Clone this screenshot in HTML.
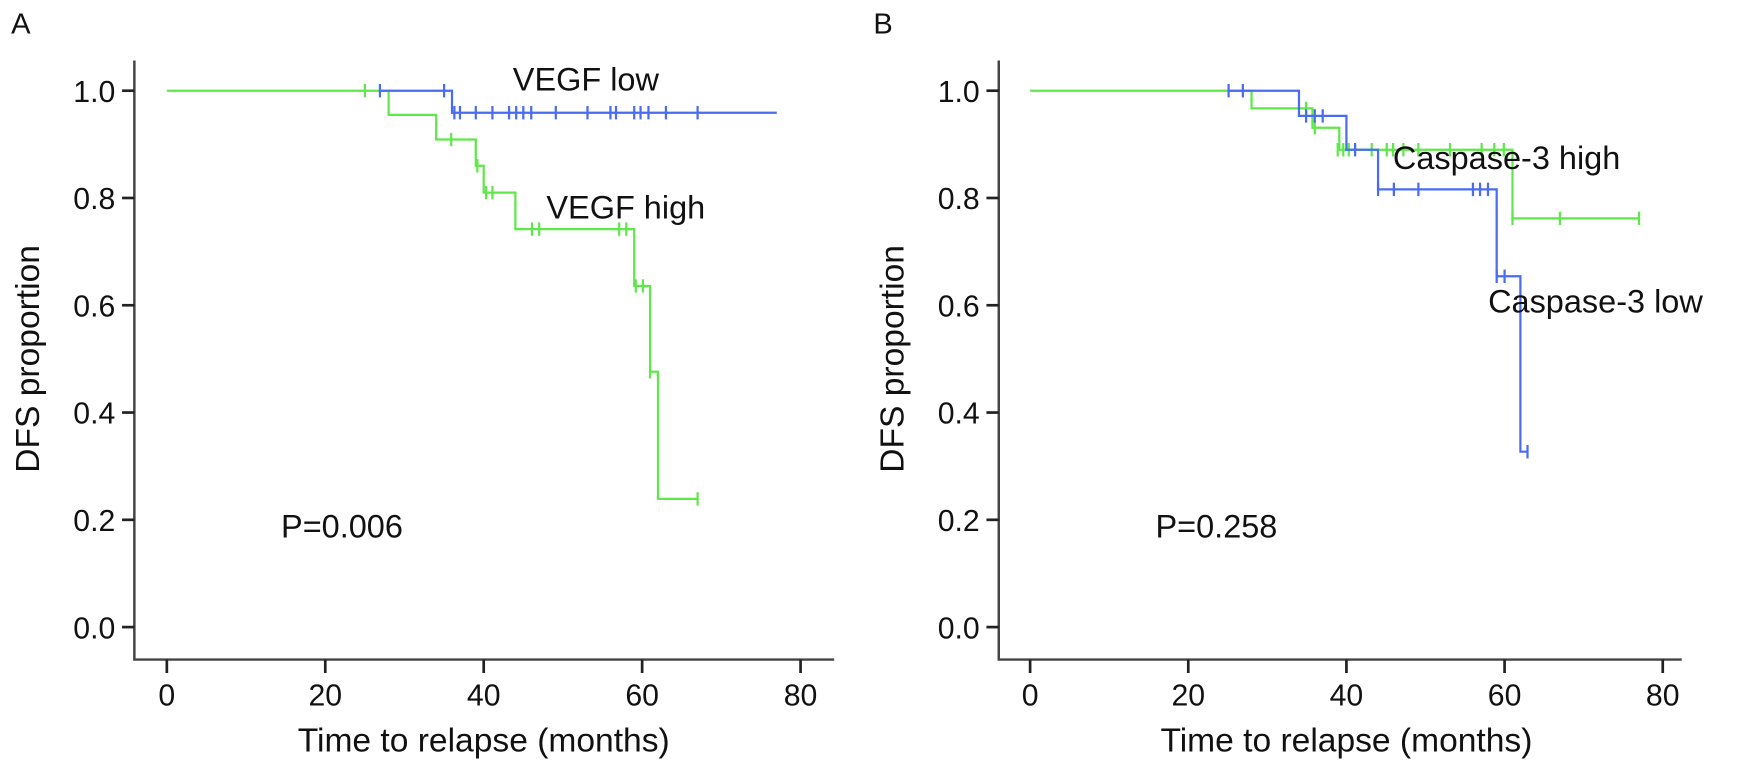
<!DOCTYPE html>
<html><head><meta charset="utf-8"><style>
body{margin:0;background:#fff;}
svg{display:block;font-family:"Liberation Sans",Arial,sans-serif;}
</style></head><body>
<svg id="chart" width="1755" height="773" viewBox="0 0 1567.4 690.3" preserveAspectRatio="none"></svg>
<script>
// Panel A data (months, survival)
const aHighTimes=[0,28,34,39,40,44,59,61,62,67];
const aHighSurv=[1,0.955,0.909,0.860,0.810,0.742,0.636,0.476,0.239,0.239];
const aHighCens=[[25,1],[35.9,0.909],[39.2,0.860],[40.3,0.810],[41.1,0.810],[46.1,0.742],[47,0.742],[57.1,0.742],[58,0.742],[59.2,0.636],[60.1,0.636],[61,0.476],[67,0.239]];
const aLowTimes=[27,36,77];
const aLowSurv=[1,0.959,0.959];
const aLowCensT=[26.9,35,36.3,37,39,41.1,43.2,44.1,45,46,49.1,53.1,56,56.7,59,59.8,60.8,63,67];
const aLowCensS=[1,1,0.959,0.959,0.959,0.959,0.959,0.959,0.959,0.959,0.959,0.959,0.959,0.959,0.959,0.959,0.959,0.959,0.959];
// Panel B data
const bHighTimes=[0,28,35.7,39.1,61,77];
const bHighSurv=[1,0.967,0.931,0.890,0.762,0.762];
const bHighCens=[[34.9,0.967],[36,0.931],[38.9,0.89],[39.6,0.89],[40.3,0.89],[43.2,0.89],[45.1,0.89],[45.9,0.89],[47.2,0.89],[49.1,0.89],[53.1,0.89],[57.1,0.89],[58.7,0.89],[59.9,0.89],[61,0.762],[67,0.762],[77,0.762]];
const bLowTimes=[25,34,40,44,59,62,63];
const bLowSurv=[1,0.953,0.890,0.816,0.654,0.327,0.327];
const bLowCens=[[25.1,1],[26.9,1],[34.9,0.953],[36,0.953],[37,0.953],[41.1,0.89],[44,0.816],[46,0.816],[49.1,0.816],[56,0.816],[56.9,0.816],[57.9,0.816],[59,0.654],[60,0.654],[62.9,0.327]];
const xTicks=[0,20,40,60,80];
const yTicks=[0,0.2,0.4,0.6,0.8,1.0];

const NS="http://www.w3.org/2000/svg";
const svg=document.getElementById('chart');
function mk(tag,attrs,parent){const e=document.createElementNS(NS,tag);for(const k in attrs)e.setAttribute(k,attrs[k]);(parent||svg).appendChild(e);return e;}
const GREEN="#5fe84a",BLUE="#4a6cf0";

function panel(P){
  const g=mk('g',{});
  
  
  const sx=t=>P.x0+(P.x80-P.x0)*t/80;
  const sy=v=>P.y0-(P.y0-P.y1)*v;
  const ax=mk('path',{d:`M${P.ax},${P.top} V${P.axY} H${P.right}`,stroke:'#444',fill:'none','stroke-width':2.2},g);
  
  
  xTicks.forEach(t=>{
    mk('line',{x1:sx(t),x2:sx(t),y1:P.axY,y2:P.axY+12,stroke:'#222','stroke-width':2.4},g);
    const tx=mk('text',{x:sx(t),y:P.axY+41,'text-anchor':'middle','font-size':27,fill:'#111'},g);
    tx.textContent=t;
    
    
  });
  yTicks.forEach(v=>{
    mk('line',{x1:P.ax-11,x2:P.ax,y1:sy(v),y2:sy(v),stroke:'#222','stroke-width':2.4},g);
    const tx=mk('text',{x:P.ax-17,y:sy(v)+10,'text-anchor':'end','font-size':27,fill:'#111'},g);
    tx.textContent=v.toFixed(1);
    
    
  });
  const xt=mk('text',{x:(P.x0+P.x80)/2,y:P.axY+82,'text-anchor':'middle','font-size':30,fill:'#111'},g);
  xt.textContent='Time to relapse (months)';
  
  
  const yt=mk('text',{x:0,y:0,'text-anchor':'middle','font-size':30,fill:'#111',transform:`translate(${P.ax-85},${sy(0.5)}) rotate(-90)`},g);
  yt.textContent='DFS proportion';
  
  
  const lt=mk('text',{x:P.letterX,y:30,'font-size':26,fill:'#111'},g);
  lt.textContent=P.letter;
  
  
  P.series.forEach(s=>{
    let d=`M${sx(s.start)},${sy(s.surv[0])}`;
    for(let i=1;i<s.times.length;i++){
      d+=` H${sx(s.times[i])} V${sy(s.surv[i])}`;
    }
    const p=mk('path',{d:d,stroke:s.color,fill:'none','stroke-width':2},g);
    
    
    s.cens.forEach(c=>{
      const m=mk('line',{x1:sx(c[0]),x2:sx(c[0]),y1:sy(c[1])-6,y2:sy(c[1])+6,stroke:s.color,'stroke-width':2},g);
      
      
    });
  });
  P.labels.forEach(l=>{
    const t=mk('text',{x:l.x,y:l.y,'font-size':29,fill:'#111'},g);
    t.textContent=l.text;
    
    
  });
}

panel({name:'panel-a',letter:'A',letterX:10,ax:120,top:54,axY:589,right:745,x0:149,x80:715,y0:560,y1:81,
  series:[
    {name:'vegf-high',color:GREEN,start:0,times:aHighTimes,surv:aHighSurv,cens:aHighCens},
    {name:'vegf-low',color:BLUE,start:26.9,times:aLowTimes,surv:aLowSurv,cens:aLowCensT.map((t,i)=>[t,aLowCensS[i]])}
  ],
  labels:[{text:'VEGF low',x:458,y:81,name:'vegf-low-label'},{text:'VEGF high',x:488,y:195,name:'vegf-high-label'},{text:'P=0.006',x:251,y:480,name:'p-value-a'}]
});
panel({name:'panel-b',letter:'B',letterX:780,ax:892,top:54,axY:589,right:1502,x0:920,x80:1485,y0:560,y1:81,
  series:[
    {name:'caspase3-high',color:GREEN,start:0,times:bHighTimes,surv:bHighSurv,cens:bHighCens},
    {name:'caspase3-low',color:BLUE,start:25,times:bLowTimes,surv:bLowSurv,cens:bLowCens}
  ],
  labels:[{text:'Caspase-3 high',x:1244,y:151,name:'caspase3-high-label'},{text:'Caspase-3 low',x:1329,y:279,name:'caspase3-low-label'},{text:'P=0.258',x:1032,y:480,name:'p-value-b'}]
});
</script>
</body></html>
